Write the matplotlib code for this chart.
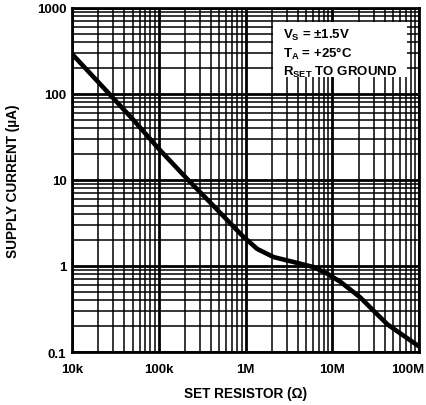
import numpy as np
import matplotlib.pyplot as plt
import matplotlib.transforms as mtransforms
from matplotlib.patches import Rectangle
from matplotlib.ticker import LogLocator, NullFormatter, FixedLocator

# Supply current (uA) vs set resistor (ohm)
set_resistor = [10e3, 20e3, 50e3, 100e3, 212e3, 427e3, 700e3, 916e3, 1.36e6,
                2.1e6, 3.6e6, 6.1e6, 8.8e6, 12.5e6, 21e6, 30e6, 43e6, 62e6, 100e6]
supply_current = [292, 138, 51, 23, 10.3, 5.0, 2.98, 2.25, 1.58,
                  1.27, 1.11, 0.97, 0.81, 0.65, 0.43, 0.30, 0.21, 0.162, 0.116]

x_ticks = [1e4, 1e5, 1e6, 1e7, 1e8]
x_labels = ['10k', '100k', '1M', '10M', '100M']
y_ticks = [0.1, 1, 10, 100, 1000]
y_labels = ['0.1', '1', '10', '100', '1000']

plt.rcParams['font.family'] = ['Liberation Sans', 'DejaVu Sans']
plt.rcParams['font.weight'] = 'bold'
plt.rcParams['mathtext.fontset'] = 'custom'
plt.rcParams['mathtext.rm'] = 'Liberation Sans:bold'
plt.rcParams['mathtext.bf'] = 'Liberation Sans:bold'

fig = plt.figure(figsize=(4.26, 4.06), dpi=100)
ax = fig.add_axes([0.169, 0.1305, 0.815, 0.8475])

ax.plot(set_resistor, supply_current, color='black', lw=3.3, zorder=5,
        solid_joinstyle='round', solid_capstyle='butt')

ax.set_xscale('log')
ax.set_yscale('log')
ax.set_xlim(1e4, 1e8)
ax.set_ylim(0.1, 1000)

ax.xaxis.set_major_locator(FixedLocator(x_ticks))
ax.set_xticklabels(x_labels)
ax.yaxis.set_major_locator(FixedLocator(y_ticks))
ax.set_yticklabels(y_labels)
ax.xaxis.set_minor_locator(LogLocator(base=10, subs=np.arange(2, 10), numticks=20))
ax.yaxis.set_minor_locator(LogLocator(base=10, subs=np.arange(2, 10), numticks=20))
ax.xaxis.set_minor_formatter(NullFormatter())
ax.yaxis.set_minor_formatter(NullFormatter())

ax.grid(which='major', color='black', lw=2.0)
ax.grid(which='minor', color='black', lw=1.1)
ax.tick_params(which='both', length=0, labelsize=9.5)
ax.tick_params(axis='y', pad=4)
ax.tick_params(axis='x', pad=8)
for s in ax.spines.values():
    s.set_linewidth(2)
    s.set_zorder(6)

# last x label sits a little inside the right edge, as in the original
lab = ax.get_xticklabels()[-1]
lab.set_transform(lab.get_transform() + mtransforms.ScaledTranslation(-11 / 100, 0, fig.dpi_scale_trans))

ax.set_xlabel('SET RESISTOR (\u03a9)', fontsize=9.8, fontweight='bold', labelpad=8)
ax.set_ylabel('SUPPLY CURRENT (\u00b5A)', fontsize=9.8, fontweight='bold', labelpad=12)

# white legend box covering the grid
ax.add_patch(Rectangle((0.579, 0.80), 0.386, 0.159, transform=ax.transAxes,
                       facecolor='white', edgecolor='none', zorder=4))
ax.text(0.608, 0.945, '$\\mathbf{V_S}$ = \u00b11.5V\n$\\mathbf{T_A}$ = +25\u00b0C\n$\\mathbf{R_{SET}}$ TO GROUND',
        transform=ax.transAxes, fontsize=9.5, fontweight='bold', va='top', ha='left',
        linespacing=1.25, zorder=6)

fig.savefig('out.png', dpi=100)
